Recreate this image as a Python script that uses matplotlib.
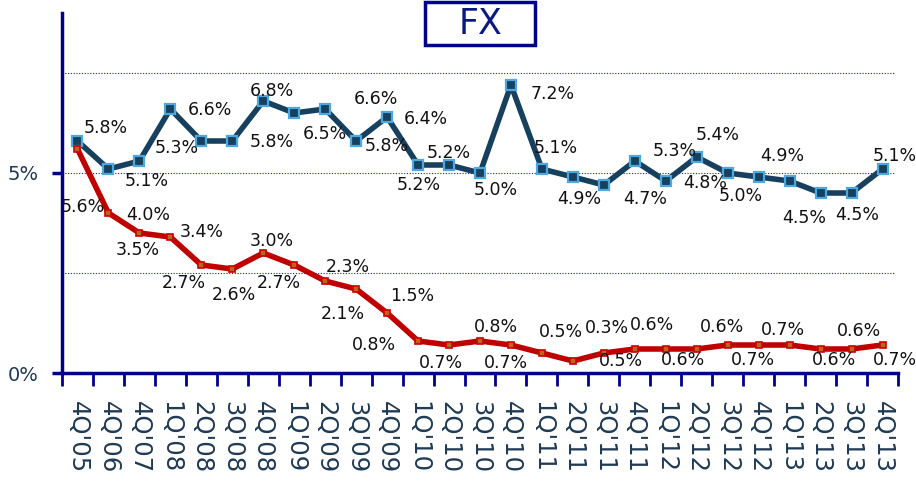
import matplotlib
matplotlib.use("Agg")
import matplotlib.pyplot as plt
import numpy as np
from matplotlib.ticker import FixedLocator, FuncFormatter
from matplotlib.patches import Rectangle

categories = ["4Q'05", "4Q'06", "4Q'07", "1Q'08", "2Q'08", "3Q'08", "4Q'08",
              "1Q'09", "2Q'09", "3Q'09", "4Q'09", "1Q'10", "2Q'10", "3Q'10",
              "4Q'10", "1Q'11", "2Q'11", "3Q'11", "4Q'11", "1Q'12", "2Q'12",
              "3Q'12", "4Q'12", "1Q'13", "2Q'13", "3Q'13", "4Q'13"]

blue_values = [5.8, 5.1, 5.3, 6.6, 5.8, 5.8, 6.8, 6.5, 6.6, 5.8, 6.4, 5.2, 5.2, 5.0,
               7.2, 5.1, 4.9, 4.7, 5.3, 4.8, 5.4, 5.0, 4.9, 4.8, 4.5, 4.5, 5.1]
red_values = [5.6, 4.0, 3.5, 3.4, 2.7, 2.6, 3.0, 2.7, 2.3, 2.1, 1.5, 0.8, 0.7, 0.8,
              0.7, 0.5, 0.3, 0.5, 0.6, 0.6, 0.6, 0.7, 0.7, 0.7, 0.6, 0.6, 0.7]

y_ticks = [0, 5]
grid_levels = [2.5, 5, 7.5]
title_text = "FX"

# label placement offsets in pixels (dx right, dy down); None = label hidden
blue_offsets = [(28, -13), (38, 12), (37, -13), (40, 1), None, (39, 1), (9, -10),
                (31, 21), (51, -10), (31, 5), (39, 2), (1, 20), (0, -12), (16, 17),
                (42, 9), (14, -21), (6, 22), (41, 14), (40, -10), (39, 2), (21, -22),
                (13, 23), (24, -21), None, (-16, 25), (6, 22), (12, -13)]
red_offsets = [(5, 58), (40, 2), (-2, 17), (31, -5), (-18, 18), (2, 26), (8, -12),
               (-15, 18), (23, -14), (-13, 25), (25, -17), (-44, 4), (-8, 18), (16, -14),
               (-5, 18), (19, -21), (34, -33), (17, 8), (17, -24), (17, 11), (25, -22),
               (25, 15), (24, -15), None, (13, 11), (7, -18), (12, 15)]

W, H = 916, 490
fig = plt.figure(figsize=(W / 100, H / 100), dpi=100)
ax = fig.add_axes([62 / W, (H - 373) / H, (898 - 62) / W, (373 - 13) / H])

x = np.arange(len(categories))
navy = "#00008B"
blue_line = "#17405E"
red_line = "#C00000"

for g in grid_levels:
    ax.axhline(g, color="#20209A", lw=0.8, ls=(0, (1, 1.5)), xmax=0.995, zorder=1)

ax.plot(x, blue_values, color=blue_line, lw=4, marker="s", ms=6.5,
        mfc="#17405E", mec="#4BA8E0", mew=1.6, zorder=3, clip_on=False)
ax.plot(x, red_values, color=red_line, lw=4, marker="s", ms=5,
        mfc="#B8661A", mec="#D00000", mew=1.2, zorder=3, clip_on=False)

def add_labels(vals, offs):
    for xi, v, o in zip(x, vals, offs):
        if o is None:
            continue
        ax.annotate(f"{v:.1f}%", (xi, v), xytext=(o[0], -o[1]),
                    textcoords="offset pixels", ha="center", va="center",
                    fontsize=12.5, color="#111111", annotation_clip=False, zorder=4)

add_labels(blue_values, blue_offsets)
add_labels(red_values, red_offsets)

ax.set_xlim(-0.5, len(categories) - 0.5)
ax.set_ylim(0, 9)

for s in ["top", "right"]:
    ax.spines[s].set_visible(False)
for s in ["left", "bottom"]:
    ax.spines[s].set_color(navy)
    ax.spines[s].set_linewidth(2.5)

ax.set_yticks(y_ticks)
ax.yaxis.set_major_formatter(FuncFormatter(lambda v, p: f"{v:.0f}%"))
ax.tick_params(axis="y", length=7, width=2.5, color=navy, labelsize=14,
               labelcolor="#1F3A55", pad=10)

ax.set_xticks(x)
ax.set_xticklabels(categories, rotation=-90, fontsize=17.5, color="#1F3A55")
ax.tick_params(axis="x", which="major", length=0, pad=20)
ax.xaxis.set_minor_locator(FixedLocator(np.arange(-0.5, len(categories), 1)))
ax.tick_params(axis="x", which="minor", length=9, width=2, color=navy)

fig.patches.append(Rectangle((425 / W, 1 - 45 / H), 110 / W, 43 / H,
                             transform=fig.transFigure, fc="white", ec=navy, lw=2.5))
fig.text(480 / W, 1 - 24 / H, title_text, ha="center", va="center", fontsize=25,
         color="#0A1A80")

fig.savefig("out.png", dpi=100)
